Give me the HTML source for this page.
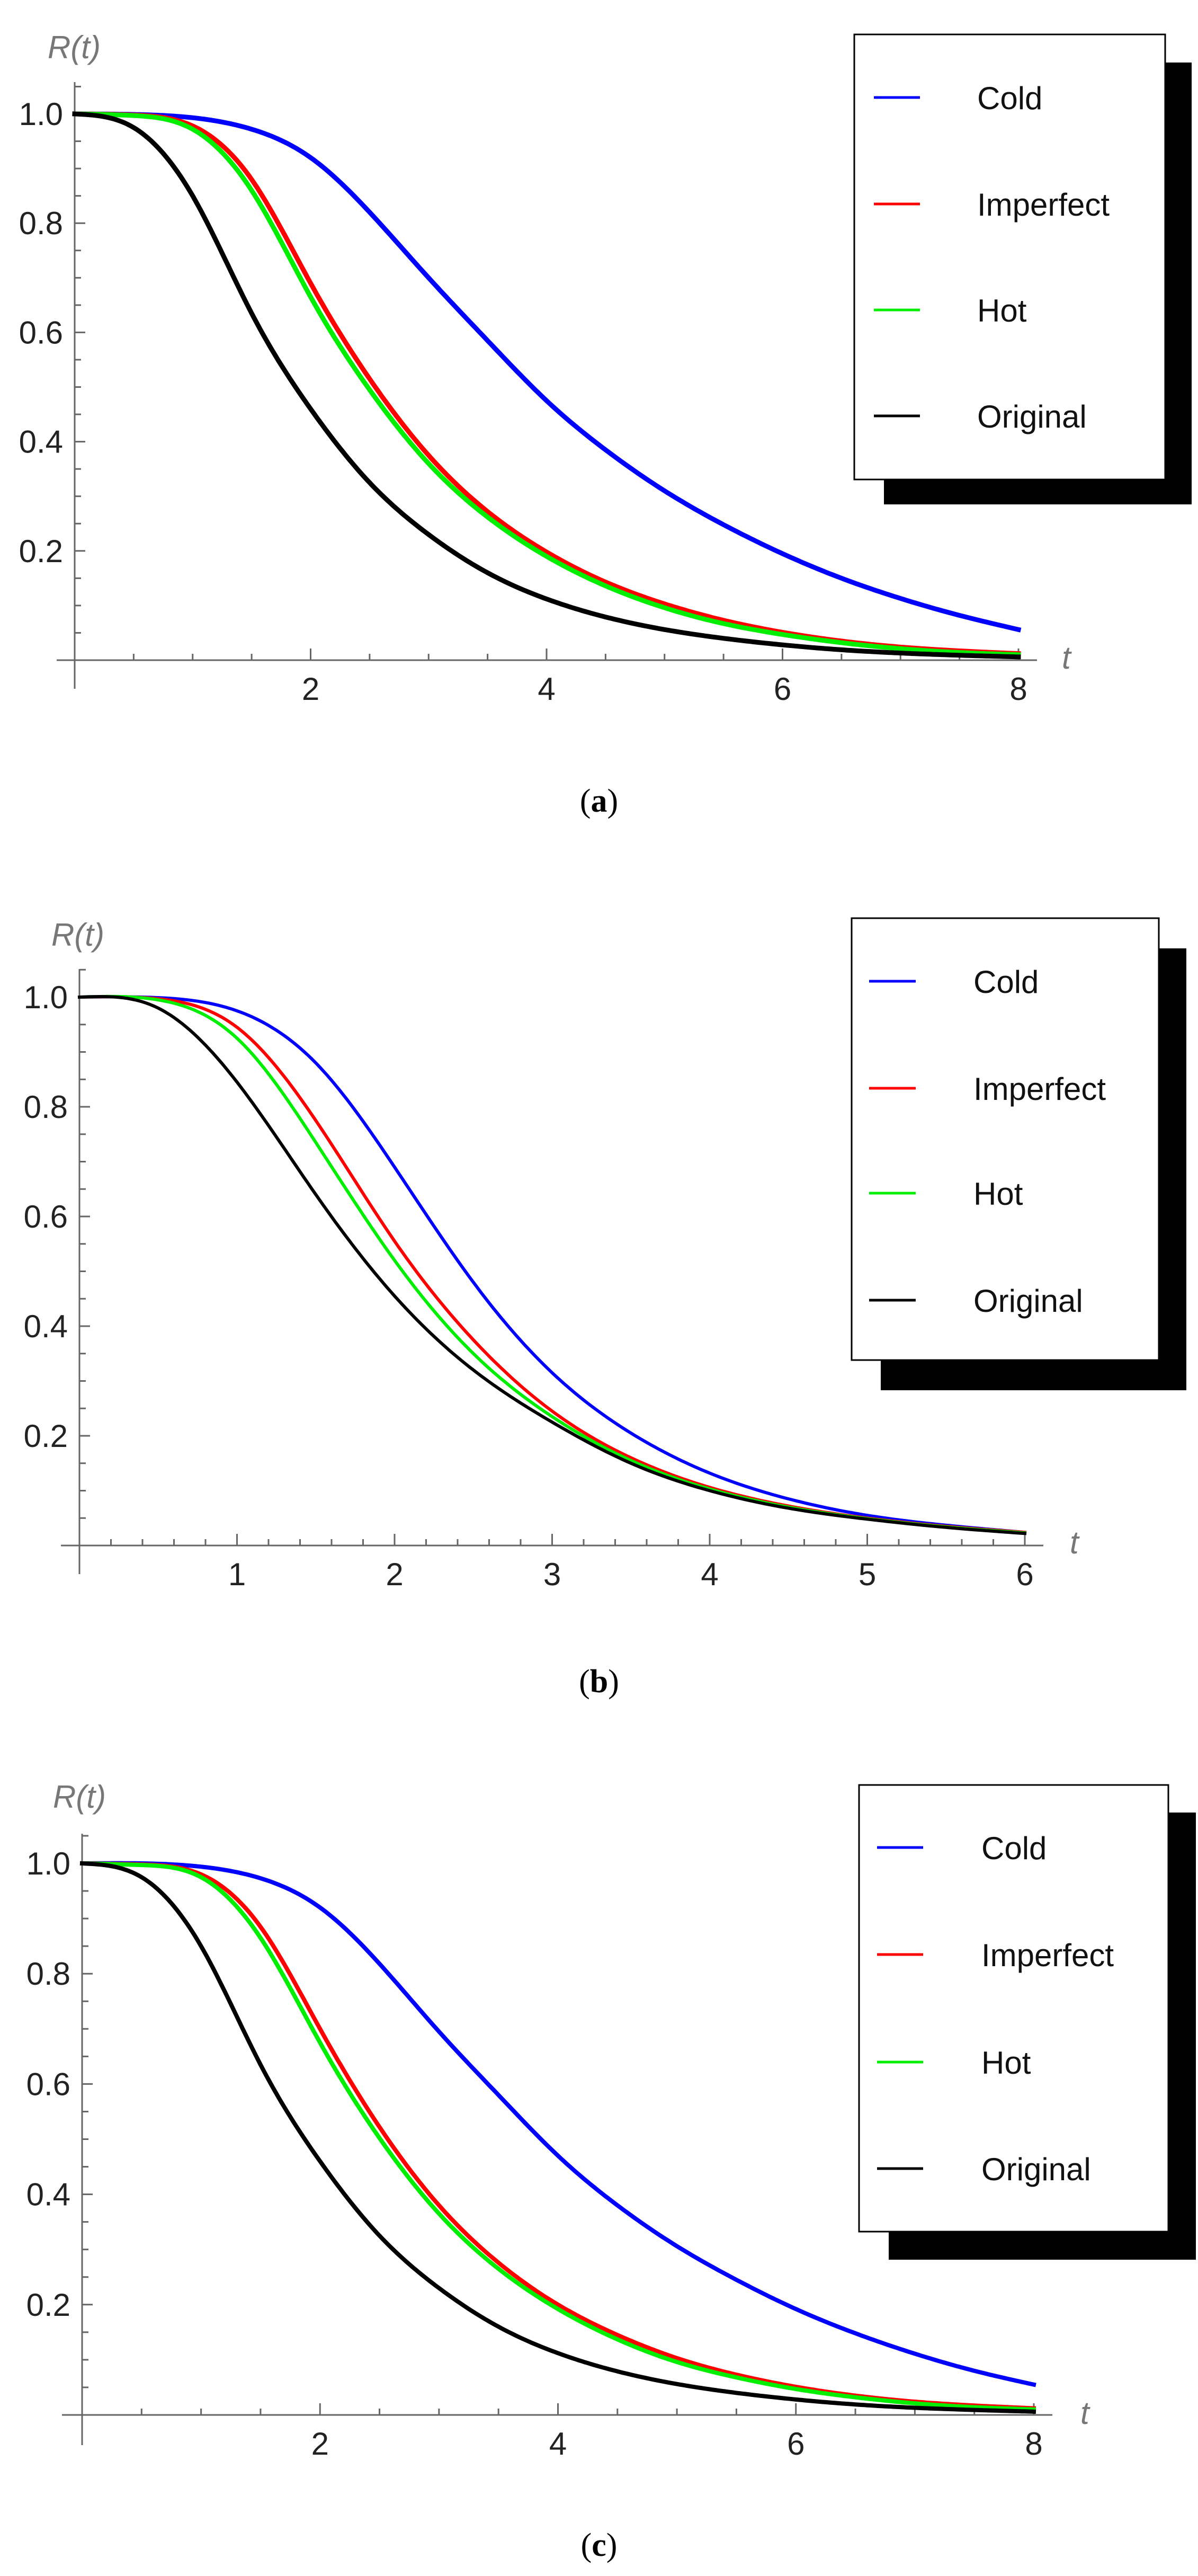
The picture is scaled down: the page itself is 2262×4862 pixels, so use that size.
<!DOCTYPE html>
<html><head><meta charset="utf-8"><style>
html,body{margin:0;padding:0;background:#fff}
svg{display:block}
text{font-family:"Liberation Sans",sans-serif}
.cap{font-family:"Liberation Serif",serif;font-size:62px}
</style></head><body>
<svg id="fig" width="2262" height="4862" viewBox="0 0 2262 4862"></svg>
<script>
// ---- Panel (a) data ----
const tA = [0,0.5,1,1.5,2,2.5,3,3.5,4,4.5,5,5.5,6,6.5,7,7.5,8];
const coldA = [1,0.999,0.993,0.972,0.92,0.82,0.70,0.585,0.475,0.385,0.31,0.248,0.195,0.15,0.113,0.082,0.056];
const impA  = [1,0.998,0.978,0.88,0.69,0.515,0.375,0.272,0.198,0.143,0.103,0.073,0.051,0.035,0.024,0.017,0.012];
const hotA  = [1,0.997,0.972,0.86,0.665,0.495,0.36,0.262,0.19,0.136,0.096,0.067,0.047,0.032,0.021,0.014,0.01];
const origA = [1,0.975,0.85,0.635,0.46,0.325,0.23,0.16,0.112,0.079,0.056,0.04,0.028,0.019,0.013,0.009,0.006];
// ---- Panel (b) data ----
const tB = [0,0.5,1,1.5,2,2.5,3,3.5,4,4.5,5,5.5,6];
const coldB = [1,0.999,0.975,0.88,0.69,0.48,0.315,0.205,0.132,0.085,0.055,0.037,0.024];
const impB  = [1,0.997,0.945,0.775,0.555,0.375,0.245,0.16,0.106,0.072,0.05,0.035,0.024];
const hotB  = [1,0.995,0.925,0.735,0.52,0.35,0.235,0.155,0.103,0.07,0.049,0.034,0.023];
const origB = [1,0.98,0.845,0.64,0.455,0.32,0.225,0.15,0.1,0.068,0.048,0.033,0.022];
// ---- Panel (c) data ----
const tC = [0,0.5,1,1.5,2,2.5,3,3.5,4,4.5,5,5.5,6,6.5,7,7.5,8];
const coldC = [1,1,0.994,0.973,0.92,0.818,0.695,0.58,0.47,0.38,0.306,0.245,0.192,0.148,0.111,0.08,0.055];
const impC  = [1,0.998,0.98,0.885,0.70,0.522,0.38,0.276,0.2,0.145,0.103,0.073,0.051,0.035,0.024,0.017,0.012];
const hotC  = [1,0.997,0.975,0.865,0.675,0.502,0.365,0.265,0.192,0.137,0.096,0.068,0.047,0.032,0.021,0.014,0.01];
const origC = [1,0.975,0.85,0.635,0.46,0.325,0.23,0.16,0.112,0.079,0.056,0.04,0.028,0.019,0.013,0.009,0.006];
const seriesNames = ["Cold","Imperfect","Hot","Original"];
const seriesColors = ["#0000ff","#ff0000","#00ee00","#000000"];
const xTicksAC = [2,4,6,8];
const xTicksB = [1,2,3,4,5,6];
const yTicks = [0.2,0.4,0.6,0.8,1.0];

const NS="http://www.w3.org/2000/svg";
const svg=document.getElementById('fig');
function mk(tag,attrs,parent){const e=document.createElementNS(NS,tag);for(const k in attrs)e.setAttribute(k,attrs[k]);(parent||svg).appendChild(e);return e;}

const panels=[
 {id:'a',t:tA,s:[coldA,impA,hotA,origA],xmax:8,xt:xTicksAC,minorX:0.5,ox:141,x1:1923,y0:1246,y1:215,axL:107,axR:1958,ayT:155,ayB:1300,
  rx:90,ry:110,tx:2005,ty:1262,lb:[1613,65,2200,905],sh:[1669,118,2250,952],ly:[184,385,585,785],lx1:1650,lx2:1737,ltx:1845,capY:1532,lw:9},
 {id:'b',t:tB,s:[coldB,impB,hotB,origB],xmax:6,xt:xTicksB,minorX:0.2,ox:150,x1:1935,y0:2917,y1:1882,axL:115,axR:1970,ayT:1829,ayB:2971,
  rx:97,ry:1785,tx:2020,ty:2932,lb:[1608,1733,2188,2567],sh:[1663,1790,2240,2624],ly:[1852,2054,2252,2454],lx1:1641,lx2:1729,ltx:1838,capY:3194,lw:6},
 {id:'c',t:tC,s:[coldC,impC,hotC,origC],xmax:8,xt:xTicksAC,minorX:0.5,ox:155,x1:1952,y0:4558,y1:3517,axL:117,axR:1987,ayT:3461,ayB:4615,
  rx:100,ry:3412,tx:2040,ty:4575,lb:[1622,3369,2206,4212],sh:[1678,3421,2258,4265],ly:[3487,3689,3892,4093],lx1:1656,lx2:1743,ltx:1853,capY:4824,lw:8}
];

// natural cubic spline through data, sampled
function splinePath(xsD,ysD){
 const n=xsD.length, h=[], al=[], l=[1], mu=[0], z=[0], c=new Array(n).fill(0), b=[], d=[];
 for(let i=0;i<n-1;i++) h.push(xsD[i+1]-xsD[i]);
 for(let i=1;i<n-1;i++) al[i]=3/h[i]*(ysD[i+1]-ysD[i])-3/h[i-1]*(ysD[i]-ysD[i-1]);
 for(let i=1;i<n-1;i++){l[i]=2*(xsD[i+1]-xsD[i-1])-h[i-1]*mu[i-1];mu[i]=h[i]/l[i];z[i]=(al[i]-h[i-1]*z[i-1])/l[i];}
 for(let j=n-2;j>=0;j--){c[j]=(j>0?z[j]:0)-mu[j]*c[j+1];b[j]=(ysD[j+1]-ysD[j])/h[j]-h[j]*(c[j+1]+2*c[j])/3;d[j]=(c[j+1]-c[j])/(3*h[j]);}
 let s='M'+xsD[0].toFixed(1)+','+ysD[0].toFixed(1);
 for(let j=0;j<n-1;j++){
  for(let k=1;k<=20;k++){const dx=h[j]*k/20;const y=ysD[j]+b[j]*dx+c[j]*dx*dx+d[j]*dx*dx*dx;s+=' L'+(xsD[j]+dx).toFixed(1)+','+y.toFixed(1);}
 }
 return s;
}

panels.forEach(P=>{
 const g=mk('g',{});
 
 
 const xs=v=>P.ox+(P.x1-P.ox)*v/P.xmax;
 const ys=v=>P.y0-(P.y0-P.y1)*v;
 const ax='#666';
 const xa=mk('line',{x1:P.axL,y1:P.y0,x2:P.axR,y2:P.y0,stroke:ax,'stroke-width':3},g);
 
 
 const ya=mk('line',{x1:P.ox,y1:P.ayT,x2:P.ox,y2:P.ayB,stroke:ax,'stroke-width':3},g);
 
 
 for(let v=P.minorX;v<=P.xmax+1e-6;v+=P.minorX){
  const major=P.xt.some(m=>Math.abs(m-v)<1e-6);
  mk('line',{x1:xs(v),y1:P.y0,x2:xs(v),y2:P.y0-(major?22:12),stroke:ax,'stroke-width':3},g);
 }
 P.xt.forEach(v=>{
  const tl=mk('text',{x:xs(v),y:P.y0+75,'font-size':60,'text-anchor':'middle',fill:'#222'},g);
  tl.textContent=String(v);
  
  
 });
 for(let k=1;k<=21;k++){
  const v=k*0.05; const major=(k%4===0);
  mk('line',{x1:P.ox,y1:ys(v),x2:P.ox+(major?20:12),y2:ys(v),stroke:ax,'stroke-width':3},g);
 }
 yTicks.forEach(v=>{
  const tl=mk('text',{x:P.ox-22,y:ys(v)+21,'font-size':60,'text-anchor':'end',fill:'#222'},g);
  tl.textContent=v.toFixed(1);
  
  
 });
 const rl=mk('text',{x:P.rx,y:P.ry,'font-size':60,fill:'#777','font-style':'italic'},g);
 rl.textContent='R(t)';
 
 
 const tl=mk('text',{x:P.tx,y:P.ty,'font-size':60,fill:'#777','font-style':'italic'},g);
 tl.textContent='t';
 
 
 P.s.forEach((arr,i)=>{
  const px=P.t.map(tv=>xs(tv)), py=arr.map(v=>ys(v));
  const p=mk('path',{d:splinePath(px,py),fill:'none',stroke:seriesColors[i],'stroke-width':P.lw,'stroke-linejoin':'round','stroke-linecap':'square'},g);
  
  
 });
 const sh=mk('rect',{x:P.sh[0],y:P.sh[1],width:P.sh[2]-P.sh[0],height:P.sh[3]-P.sh[1],fill:'#000'},g);
 
 
 const lb=mk('rect',{x:P.lb[0],y:P.lb[1],width:P.lb[2]-P.lb[0],height:P.lb[3]-P.lb[1],fill:'#fff',stroke:'#000','stroke-width':3},g);
 
 
 seriesNames.forEach((n,i)=>{
  const ln=mk('line',{x1:P.lx1,y1:P.ly[i],x2:P.lx2,y2:P.ly[i],stroke:seriesColors[i],'stroke-width':5},g);
  
  
  const tx=mk('text',{x:P.ltx,y:P.ly[i]+22,'font-size':60,fill:'#111'},g);
  tx.textContent=n;
  
  
 });
 const cap=mk('text',{x:1131,y:P.capY,'text-anchor':'middle',class:'cap',fill:'#000'},g);
 cap.innerHTML='(<tspan font-weight="bold">'+P.id+'</tspan>)';
 
 
});
</script>
</body></html>
